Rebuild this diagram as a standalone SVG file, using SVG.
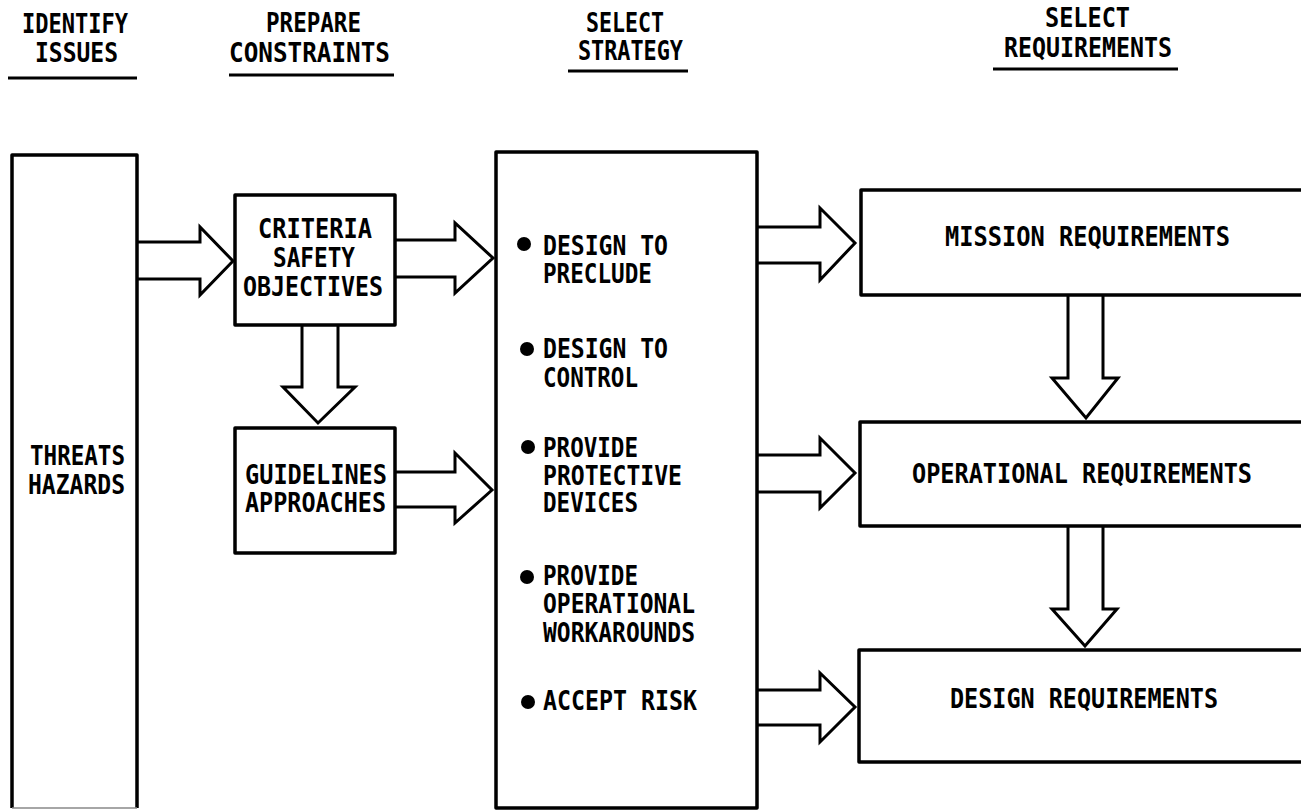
<svg xmlns="http://www.w3.org/2000/svg" width="1301" height="811" viewBox="0 0 1301 811">
<style>
  .box { fill: #fff; stroke: #000; stroke-width: 3.5; stroke-linejoin: round; }
  .arrow { fill: #fff; stroke: #000; stroke-width: 3; stroke-linejoin: miter; }
  .rule { stroke: #000; stroke-width: 3; }
  text { font-family: "DejaVu Sans Mono", "Liberation Mono", monospace; font-weight: bold; font-size: 26px; fill: #000; }
  .bullet { fill: #000; }
</style>
<rect width="1301" height="811" fill="#fff"/>

<g id="headers">
  <text x="22" y="33" textLength="106" lengthAdjust="spacingAndGlyphs">IDENTIFY</text>
  <text x="35" y="62" textLength="83" lengthAdjust="spacingAndGlyphs">ISSUES</text>
  <line class="rule" x1="8" y1="78" x2="137" y2="78"/>
  <text x="266" y="32" textLength="95" lengthAdjust="spacingAndGlyphs">PREPARE</text>
  <text x="229" y="62" textLength="161" lengthAdjust="spacingAndGlyphs">CONSTRAINTS</text>
  <line class="rule" x1="229" y1="75" x2="394" y2="75"/>
  <text x="586" y="32" textLength="78" lengthAdjust="spacingAndGlyphs">SELECT</text>
  <text x="578" y="60" textLength="105" lengthAdjust="spacingAndGlyphs">STRATEGY</text>
  <line class="rule" x1="568" y1="71" x2="688" y2="71"/>
  <text x="1045" y="27" textLength="85" lengthAdjust="spacingAndGlyphs">SELECT</text>
  <text x="1004" y="57" textLength="168" lengthAdjust="spacingAndGlyphs">REQUIREMENTS</text>
  <line class="rule" x1="993" y1="69" x2="1178" y2="69"/>
</g>

<g id="connectors">
  <path class="arrow" d="M138,242 L200,242 L200,227 L233,261 L200,295 L200,279 L138,279"/>
  <path class="arrow" d="M395,240 L455,240 L455,223 L493,258 L455,293 L455,277 L395,277"/>
  <path class="arrow" d="M395,472 L455,472 L455,453 L492,490 L455,523 L455,507 L395,507"/>
  <path class="arrow" d="M757,227 L820,227 L820,208 L855,243 L820,280 L820,263 L757,263"/>
  <path class="arrow" d="M757,455 L820,455 L820,438 L855,473 L820,508 L820,492 L757,492"/>
  <path class="arrow" d="M757,690 L820,690 L820,673 L855,707 L820,742 L820,725 L757,725"/>
  <path class="arrow" d="M302,325 L302,387 L283,387 L318,423 L355,387 L338,387 L338,325"/>
  <path class="arrow" d="M1068,295 L1068,378 L1052,378 L1086,418 L1118,378 L1103,378 L1103,295"/>
  <path class="arrow" d="M1068,526 L1068,609 L1052,609 L1085,646 L1117,609 L1103,609 L1103,526"/>
</g>

<g id="threats">
  <path class="box" d="M12,808 L12,155 L137,155 L137,808"/>
  <line x1="12" y1="808" x2="137" y2="808" stroke="#888" stroke-width="1.5"/>
  <text x="30" y="465" textLength="95" lengthAdjust="spacingAndGlyphs">THREATS</text>
  <text x="28" y="494" textLength="97" lengthAdjust="spacingAndGlyphs">HAZARDS</text>
</g>

<g id="criteria">
  <rect class="box" x="235" y="195" width="160" height="130"/>
  <text x="258" y="238" textLength="114" lengthAdjust="spacingAndGlyphs">CRITERIA</text>
  <text x="273" y="267" textLength="82" lengthAdjust="spacingAndGlyphs">SAFETY</text>
  <text x="243" y="296" textLength="140" lengthAdjust="spacingAndGlyphs">OBJECTIVES</text>
</g>

<g id="guidelines">
  <rect class="box" x="235" y="428" width="160" height="125"/>
  <text x="245" y="484" textLength="142" lengthAdjust="spacingAndGlyphs">GUIDELINES</text>
  <text x="245" y="512" textLength="141" lengthAdjust="spacingAndGlyphs">APPROACHES</text>
</g>

<g id="strategy">
  <rect class="box" x="496" y="152" width="261" height="656"/>
  <circle class="bullet" cx="524" cy="244" r="7"/>
  <text x="543" y="255" textLength="125" lengthAdjust="spacingAndGlyphs">DESIGN TO</text>
  <text x="543" y="283" textLength="109" lengthAdjust="spacingAndGlyphs">PRECLUDE</text>
  <circle class="bullet" cx="527" cy="349" r="7"/>
  <text x="543" y="358" textLength="125" lengthAdjust="spacingAndGlyphs">DESIGN TO</text>
  <text x="543" y="387" textLength="95" lengthAdjust="spacingAndGlyphs">CONTROL</text>
  <circle class="bullet" cx="528" cy="447" r="7"/>
  <text x="543" y="457" textLength="95" lengthAdjust="spacingAndGlyphs">PROVIDE</text>
  <text x="543" y="485" textLength="139" lengthAdjust="spacingAndGlyphs">PROTECTIVE</text>
  <text x="543" y="512" textLength="95" lengthAdjust="spacingAndGlyphs">DEVICES</text>
  <circle class="bullet" cx="527" cy="577" r="7"/>
  <text x="543" y="585" textLength="95" lengthAdjust="spacingAndGlyphs">PROVIDE</text>
  <text x="543" y="613" textLength="152" lengthAdjust="spacingAndGlyphs">OPERATIONAL</text>
  <text x="543" y="642" textLength="152" lengthAdjust="spacingAndGlyphs">WORKAROUNDS</text>
  <circle class="bullet" cx="528" cy="702" r="7"/>
  <text x="543" y="710" textLength="154" lengthAdjust="spacingAndGlyphs">ACCEPT RISK</text>
</g>

<g id="mission">
  <path class="box" d="M1301,190 L861,190 L861,295 L1301,295"/>
  <text x="945" y="246" textLength="285" lengthAdjust="spacingAndGlyphs">MISSION REQUIREMENTS</text>
</g>

<g id="operational">
  <path class="box" d="M1301,422 L860,422 L860,526 L1301,526"/>
  <text x="912" y="483" textLength="340" lengthAdjust="spacingAndGlyphs">OPERATIONAL REQUIREMENTS</text>
</g>

<g id="design">
  <path class="box" d="M1301,650 L859,650 L859,762 L1301,762"/>
  <text x="950" y="708" textLength="268" lengthAdjust="spacingAndGlyphs">DESIGN REQUIREMENTS</text>
</g>
</svg>
